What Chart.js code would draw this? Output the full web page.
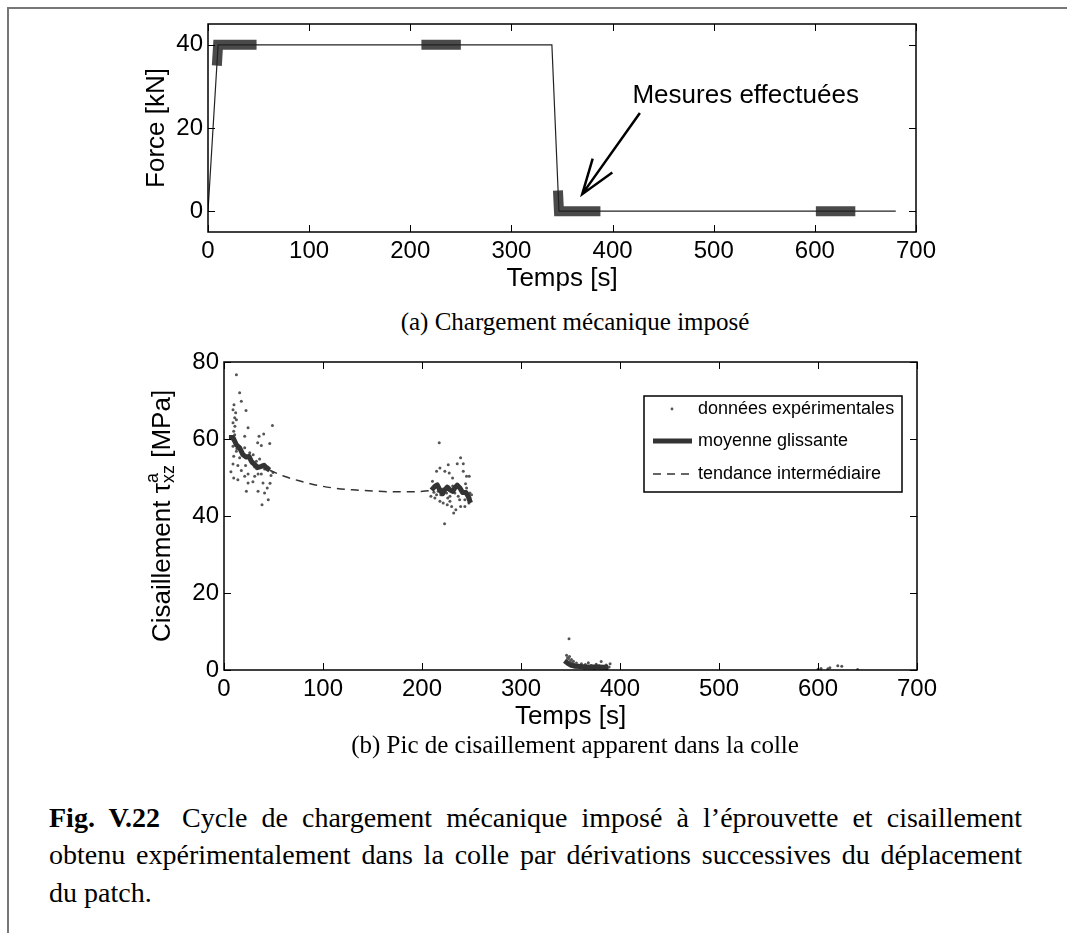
<!DOCTYPE html>
<html lang="fr">
<head>
    <meta charset="UTF-8">
    <title>Fig. V.22 - Chargement et cisaillement</title>
    <script src="https://cdn.jsdelivr.net/npm/chart.js"></script>
    <style>
        body { margin: 0; background: #fff; }
        .page { position: relative; width: 1067px; height: 933px; overflow: hidden; background: #fff; }
        .frame-top { position: absolute; left: 7px; top: 7px; width: 1060px; height: 2px; background: #777; }
        .frame-left { position: absolute; left: 7px; top: 7px; width: 2px; height: 926px; background: #777; }
        canvas { position: absolute; left: 0; }
        .subcap {
            position: absolute; left: 0; width: 1150px; text-align: center;
            font-family: "Liberation Serif", "Times New Roman", serif; font-size: 25px; line-height: 30px;
        }
        .figcap {
            position: absolute; left: 49px; width: 973px;
            font-family: "Liberation Serif", "Times New Roman", serif; font-size: 28px; line-height: 30px;
            white-space: nowrap;
        }
        .justify { text-align: justify; text-align-last: justify; white-space: normal; }
        .quad { display: inline-block; width: 22px; }
    </style>
</head>
<body>
<div class="page">
    <div class="frame-top"></div>
    <div class="frame-left"></div>

    <canvas id="forceChart" width="1067" height="300" style="top:0"></canvas>
    <div class="subcap" style="top:307px">(a) Chargement mécanique imposé</div>

    <canvas id="shearChart" width="1067" height="400" style="top:335px"></canvas>
    <div class="subcap" style="top:730px">(b) Pic de cisaillement apparent dans la colle</div>

    <div class="figcap justify" style="top:803px"><b>Fig. V.22</b><span class="quad"></span>Cycle de chargement mécanique imposé à l’éprouvette et cisaillement</div>
    <div class="figcap justify" style="top:840px">obtenu expérimentalement dans la colle par dérivations successives du déplacement</div>
    <div class="figcap" style="top:878px">du patch.</div>
</div>

<script>
    // ---- données ----
    const timeTicks = [0, 100, 200, 300, 400, 500, 600, 700];
    const forceTicks = [0, 20, 40];
    const shearTicks = [0, 20, 40, 60, 80];

    // chargement imposé
    const forceTime = [0, 10, 340, 347, 680];
    const forceValue = [0, 40, 40, 0, 0];

    // plages de mesures (traits épais)
    const measureTimes = [[8.75, 10, 48], [211, 250], [346, 347, 388], [601, 640]];
    const measureValues = [[35, 40, 40], [40, 40], [5, 0, 0], [0, 0]];

    // annotation (en coordonnées données)
    const noteText = 'Mesures effectuées';
    const notePos = [531.6, 26];
    const arrowTail = [427, 23.6];
    const arrowTip = [370, 4.1];

    // données expérimentales
    const expTime = [
        9.1, 10.1, 11.8, 10.8, 12.5, 9.1, 11, 12.5, 15.8, 17.5, 22.2, 24.3, 9.8, 10.8, 40.1, 48.9, 35.4, 20.9,
        46.2, 37.7, 34, 9.1, 15.8, 20.9, 12.5, 26, 29.5, 9.8, 15.8, 27.5, 32.7, 36, 9.1, 14, 21.8, 31, 41, 44.4,
        7, 17.5, 24.3, 34.4, 37.7, 49.5, 9.8, 20.9, 31, 14, 24.3, 29.2, 39.4, 22.6, 34.4, 41, 43.7, 38.4, 44.7,
        46.5, 47.5, 8, 11, 13, 18, 28, 33,
        217.4, 214.7, 218.1, 223.1, 226.5, 227.5, 230.9, 239, 235.6, 241.7, 241.7, 245, 247.7, 210.6, 213,
        216.4, 221.4, 224.8, 228.2, 233.2, 236.6, 240, 243.3, 248.4, 209, 213, 218.1, 221.4, 225.5, 229.9,
        234.2, 239, 243.3, 247.4, 222.8, 228.2, 214.7, 245, 236.6, 248.4, 212, 219, 226, 231, 238, 244, 250, 232,
        348.5, 346, 347, 348, 349, 350, 351, 352, 353, 354, 355, 356, 357, 358, 360, 361, 362, 364, 365, 367,
        368, 370, 371, 373, 374, 376, 377, 379, 380, 381, 383, 384, 386, 387, 389, 390,
        600, 603, 610, 612, 620, 624, 640
    ];
    const expValue = [
        67.6, 68.9, 66.8, 65.5, 65, 64.2, 63.3, 76.7, 72, 69.8, 67.4, 62.9, 62, 61.1, 61.3, 63.5, 60.7, 60.7,
        58.8, 58.3, 59, 58.1, 57.9, 57.7, 56.8, 56.4, 55.9, 55.5, 55.1, 54.7, 54.2, 54.8, 53.5, 53.1, 53.1, 52.7,
        52.2, 52.7, 51.5, 51.8, 50.9, 50.9, 50.9, 51.3, 49.9, 50.3, 50.3, 49.4, 48.6, 48.9, 48.6, 46.4, 46.4, 46,
        47.3, 42.9, 44.2, 48.5, 50.5, 60, 59.5, 57.5, 56.2, 53.7, 52.3,
        59, 51.6, 52.5, 51.6, 53.3, 51.2, 49.9, 55.1, 53.6, 53.6, 51.6, 50.3, 50.3, 49, 47.7, 46.4, 47, 46,
        45.1, 46, 45.1, 46.4, 44.2, 46, 45.1, 44.7, 43.8, 43.4, 42.9, 42.5, 41.6, 42.5, 42.5, 43.4, 38, 43.8,
        45.5, 47.3, 47.7, 44.7, 46.2, 45.5, 44.7, 47.8, 44.2, 48.4, 45.5, 40.8,
        8.1, 3.8, 3.2, 2.9, 3.5, 2.4, 2.7, 1.9, 2.3, 1.5, 1.1, 1.8, 0.9, 1.3, 0.7, 1.6, 1, 0.5, 1.4, 0.8,
        1.9, 0.6, 1.2, 0.9, 0.4, 1.5, 0.7, 1.1, 0.5, 2.2, 0.9, 0.6, 1.3, 0.4, 0.8, 1.6,
        0.2, 0.4, 0.3, 0.6, 1.1, 1, 0.1
    ];

    // moyenne glissante (trois plages)
    const avgTimes = [
        [5, 9.1, 12.5, 15.8, 19.2, 22.6, 25.3, 27.6, 31, 34.4, 37.7, 40.4, 42.8, 46.2],
        [209.6, 213, 215.4, 218, 220.8, 223.1, 225.5, 228.2, 230.9, 233.2, 235.6, 238.3, 241, 244.4, 246.7, 249],
        [344, 347, 350, 354, 360, 366, 372, 378, 384, 388]
    ];
    const avgValues = [
        [60.4, 60.4, 58.5, 57.7, 55.9, 55.3, 55.5, 54.2, 53.3, 52.6, 52.9, 53.2, 52.5, 51.9],
        [46.7, 47.7, 48.1, 46.8, 45.8, 46.8, 47.5, 46.8, 46.4, 47.3, 48, 47.3, 46.1, 46.1, 45.1, 43.4],
        [2.4, 1.8, 1.3, 1, 0.9, 0.8, 0.8, 0.8, 0.7, 0.7]
    ];

    // tendance intermédiaire
    const trendTime = [46, 60, 75, 90, 110, 130, 150, 170, 190, 210];
    const trendValue = [51.9, 50.4, 49.2, 48.2, 47.3, 46.8, 46.5, 46.3, 46.3, 46.6];

    const legendLabels = ['données expérimentales', 'moyenne glissante', 'tendance intermédiaire'];

    // ---- helpers ----
    const SANS = '"Liberation Sans", Arial, sans-serif';
    const pts = (xs, ys) => xs.map((x, i) => ({ x: x, y: ys[i] }));

    // cadre + graduations vers l'intérieur + titres d'axes
    // yParts: [texte, taille, décalage, empilé sur le précédent]
    function axesBox(xTitle, yBaseline, yParts) {
        return {
            id: 'axesBox',
            afterDraw(chart) {
                const { ctx, chartArea: a, scales: { x, y } } = chart;
                ctx.save();
                ctx.strokeStyle = '#000';
                ctx.lineWidth = 1;
                ctx.beginPath();
                x.ticks.forEach(t => {
                    const px = Math.round(x.getPixelForValue(t.value)) + 0.5;
                    ctx.moveTo(px, a.bottom); ctx.lineTo(px, a.bottom - 7);
                    ctx.moveTo(px, a.top); ctx.lineTo(px, a.top + 7);
                });
                y.ticks.forEach(t => {
                    const py = Math.round(y.getPixelForValue(t.value)) + 0.5;
                    ctx.moveTo(a.left, py); ctx.lineTo(a.left + 7, py);
                    ctx.moveTo(a.right, py); ctx.lineTo(a.right - 7, py);
                });
                ctx.stroke();
                ctx.lineWidth = 1.5;
                ctx.strokeRect(a.left, a.top, a.right - a.left, a.bottom - a.top);

                ctx.fillStyle = '#000';
                ctx.font = '26px ' + SANS;
                ctx.textAlign = 'center';
                ctx.textBaseline = 'middle';
                ctx.fillText(xTitle, (a.left + a.right) / 2, a.bottom + 47);

                // titre vertical
                ctx.translate(yBaseline, (a.top + a.bottom) / 2);
                ctx.rotate(-Math.PI / 2);
                ctx.textAlign = 'left';
                ctx.textBaseline = 'alphabetic';
                const widths = yParts.map(p => {
                    ctx.font = p[1] + 'px ' + SANS;
                    return ctx.measureText(p[0]).width;
                });
                let total = 0;
                yParts.forEach((p, i) => {
                    if (p[3]) total += Math.max(0, widths[i] - widths[i - 1]);
                    else total += widths[i];
                });
                let cx = -total / 2;
                yParts.forEach((p, i) => {
                    ctx.font = p[1] + 'px ' + SANS;
                    if (p[3]) {
                        const start = cx - widths[i - 1];
                        ctx.fillText(p[0], start, p[2]);
                        cx = Math.max(cx, start + widths[i]);
                    } else {
                        ctx.fillText(p[0], cx, p[2]);
                        cx += widths[i];
                    }
                });
                ctx.restore();
            }
        };
    }

    const noteArrow = {
        id: 'noteArrow',
        afterDraw(chart) {
            const { ctx, scales: { x, y } } = chart;
            const px = v => x.getPixelForValue(v[0]);
            const py = v => y.getPixelForValue(v[1]);
            ctx.save();
            ctx.fillStyle = '#000';
            ctx.font = '26px ' + SANS;
            ctx.textAlign = 'center';
            ctx.textBaseline = 'alphabetic';
            ctx.fillText(noteText, px(notePos), py(notePos));

            const tx = px(arrowTip), ty = py(arrowTip);
            const ang = Math.atan2(py(arrowTail) - ty, px(arrowTail) - tx);
            const head = 37, spread = 19 * Math.PI / 180;
            ctx.strokeStyle = '#000';
            ctx.lineWidth = 2.5;
            ctx.beginPath();
            ctx.moveTo(px(arrowTail), py(arrowTail));
            ctx.lineTo(tx, ty);
            ctx.moveTo(tx + head * Math.cos(ang - spread), ty + head * Math.sin(ang - spread));
            ctx.lineTo(tx, ty);
            ctx.lineTo(tx + head * Math.cos(ang + spread), ty + head * Math.sin(ang + spread));
            ctx.stroke();
            ctx.restore();
        }
    };

    const boxLegend = {
        id: 'boxLegend',
        afterDraw(chart) {
            const { ctx, chartArea: a } = chart;
            const w = 258, h = 96;
            const left = a.right - 15 - w, top = a.top + 34;
            ctx.save();
            ctx.fillStyle = '#fff';
            ctx.fillRect(left, top, w, h);
            ctx.strokeStyle = '#000';
            ctx.lineWidth = 1.5;
            ctx.strokeRect(left, top, w, h);
            const rows = [13, 45, 78];

            ctx.fillStyle = '#555';
            ctx.beginPath();
            ctx.arc(left + 28, top + rows[0], 1.4, 0, Math.PI * 2);
            ctx.fill();

            ctx.strokeStyle = '#333';
            ctx.lineWidth = 5;
            ctx.beginPath();
            ctx.moveTo(left + 9, top + rows[1]); ctx.lineTo(left + 48, top + rows[1]);
            ctx.stroke();

            ctx.lineWidth = 1.5;
            ctx.setLineDash([8, 6]);
            ctx.beginPath();
            ctx.moveTo(left + 9, top + rows[2]); ctx.lineTo(left + 48, top + rows[2]);
            ctx.stroke();
            ctx.setLineDash([]);

            ctx.fillStyle = '#000';
            ctx.font = '18px ' + SANS;
            ctx.textAlign = 'left';
            ctx.textBaseline = 'middle';
            legendLabels.forEach((t, i) => ctx.fillText(t, left + 54, top + rows[i]));
            ctx.restore();
        }
    };

    function axis(ticks, min, max, fit) {
        return {
            type: 'linear',
            min: min,
            max: max,
            afterBuildTicks: s => { s.ticks = ticks.map(v => ({ value: v })); },
            afterFit: fit,
            grid: { display: false, drawTicks: false },
            border: { display: false },
            ticks: {
                color: '#000',
                padding: 5,
                font: { family: SANS, size: 24 },
                callback: v => String(v)
            }
        };
    }

    // ---- (a) chargement ----
    const forceSets = [{
        data: pts(forceTime, forceValue),
        borderColor: '#222',
        borderWidth: 1.2,
        pointRadius: 0
    }];
    measureTimes.forEach((t, i) => forceSets.push({
        data: pts(t, measureValues[i]),
        borderColor: '#4a4a4a',
        borderWidth: 10,
        borderCapStyle: 'butt',
        borderJoinStyle: 'miter',
        pointRadius: 0
    }));

    new Chart(document.getElementById('forceChart'), {
        type: 'line',
        data: { datasets: forceSets },
        options: {
            responsive: false,
            animation: false,
            devicePixelRatio: 1,
            layout: { padding: { left: 0, top: 24, right: 151, bottom: 0 } },
            scales: {
                x: axis(timeTicks, 0, 700, s => { s.height = 68; }),
                y: axis(forceTicks, -5, 45, s => { s.width = 208; })
            },
            plugins: { legend: { display: false }, tooltip: { enabled: false } }
        },
        plugins: [axesBox('Temps [s]', 164, [['Force [kN]', 26, 0, false]]), noteArrow]
    });

    // ---- (b) cisaillement ----
    const shearSets = [];
    avgTimes.forEach((t, i) => shearSets.push({
        type: 'line',
        data: pts(t, avgValues[i]),
        borderColor: '#333',
        borderWidth: 5,
        borderJoinStyle: 'round',
        pointRadius: 0
    }));
    shearSets.push({
        type: 'line',
        data: pts(trendTime, trendValue),
        borderColor: '#333',
        borderWidth: 1.5,
        borderDash: [8, 6],
        cubicInterpolationMode: 'monotone',
        pointRadius: 0
    });
    shearSets.push({
        type: 'scatter',
        data: pts(expTime, expValue),
        pointRadius: 1.5,
        pointBackgroundColor: '#555',
        pointBorderWidth: 0,
        showLine: false
    });

    new Chart(document.getElementById('shearChart'), {
        type: 'line',
        data: { datasets: shearSets },
        options: {
            responsive: false,
            animation: false,
            devicePixelRatio: 1,
            layout: { padding: { left: 0, top: 27, right: 150, bottom: 0 } },
            scales: {
                x: axis(timeTicks, 0, 700, s => { s.height = 65; }),
                y: axis(shearTicks, 0, 80, s => { s.width = 224; })
            },
            plugins: { legend: { display: false }, tooltip: { enabled: false } }
        },
        plugins: [axesBox('Temps [s]', 170, [
            ['Cisaillement ', 26, 0, false],
            ['τ', 26, 0, false],
            ['a', 18, -12, false],
            ['xz', 18, 4, true],
            [' [MPa]', 26, 0, false]
        ]), boxLegend]
    });
</script>
</body>
</html>
